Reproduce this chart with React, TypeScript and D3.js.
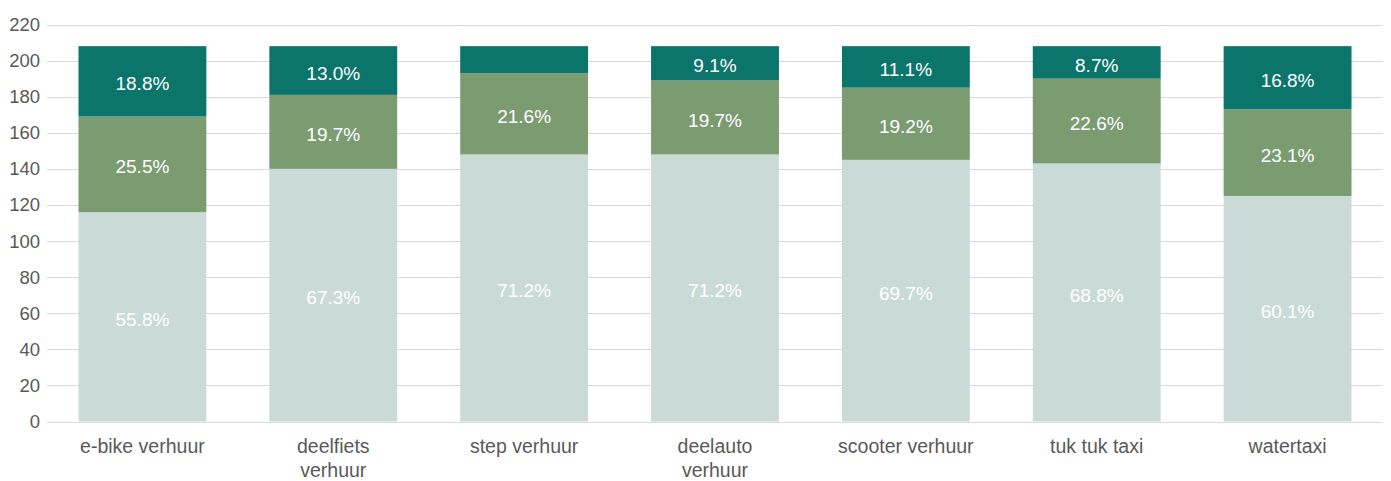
import React, { useEffect, useRef } from "react";
import * as d3 from "d3";

const categories = ["e-bike verhuur", "deelfiets verhuur", "step verhuur", "deelauto verhuur", "scooter verhuur", "tuk tuk taxi", "watertaxi"];
const seriesNames = ["bottom", "middle", "top"];
const bottomValues = [116, 140, 148, 148, 145, 143, 125];
const middleValues = [53, 41, 45, 41, 40, 47, 48];
const topValues = [39, 27, 15, 19, 23, 18, 35];
const yTicks = [0, 20, 40, 60, 80, 100, 120, 140, 160, 180, 200, 220];
const colors = ["#cadbd7", "#7b9b71", "#0b746b"];

const W = 1391;
const H = 481;

export default function App() {
  const ref = useRef<SVGSVGElement>(null);
  useEffect(() => {
    const svg = d3.select(ref.current);
    svg.selectAll("*").remove();
    const x = d3.scaleBand<string>().domain(categories).range([47, 1383]).paddingInner(0.33).paddingOuter(0.165);
    const y = d3.scaleLinear().domain([0, 220]).range([421.5, 24.5]);
    const font = "'Liberation Sans', Arial, sans-serif";

    const g = svg.append("g");
    g.selectAll("line.grid").data(yTicks).enter().append("line")
      .attr("x1", 47).attr("x2", 1383)
      .attr("y1", (d) => Math.round(y(d)) + 0.5).attr("y2", (d) => Math.round(y(d)) + 0.5)
      .attr("stroke", "#d9d9d9").attr("stroke-width", 1);
    g.selectAll("text.tick").data(yTicks).enter().append("text")
      .attr("x", 40).attr("y", (d) => y(d)).attr("dy", "0.35em")
      .attr("text-anchor", "end").attr("font-family", font).attr("font-size", 18.5)
      .attr("fill", "#595959").text((d) => String(d));

    const rows = categories.map((c, i) => ({ cat: c, bottom: bottomValues[i], middle: middleValues[i], top: topValues[i] }));
    const stack = d3.stack<any>().keys(seriesNames)(rows);
    stack.forEach((layer, li) => {
      layer.forEach((seg, i) => {
        const cat = categories[i];
        const total = bottomValues[i] + middleValues[i] + topValues[i];
        const v = seg[1] - seg[0];
        g.append("rect").attr("x", x(cat)!).attr("width", x.bandwidth())
          .attr("y", y(seg[1])).attr("height", y(seg[0]) - y(seg[1])).attr("fill", colors[li]);
        if (y(seg[0]) - y(seg[1]) >= 30) {
          g.append("text").attr("x", x(cat)! + x.bandwidth() / 2).attr("y", (y(seg[0]) + y(seg[1])) / 2)
            .attr("dy", "0.48em").attr("text-anchor", "middle").attr("font-family", font)
            .attr("font-size", 19).attr("fill", "#ffffff")
            .text(((v / total) * 100).toFixed(1) + "%");
        }
      });
    });

    const canvas = document.createElement("canvas");
    const ctx = canvas.getContext("2d")!;
    ctx.font = `19.5px ${font}`;
    categories.forEach((c) => {
      const lines = ctx.measureText(c).width > 143 ? c.split(" ") : [c];
      const t = g.append("text").attr("text-anchor", "middle").attr("font-family", font)
        .attr("font-size", 19.5).attr("fill", "#595959");
      lines.forEach((ln, k) => {
        t.append("tspan").attr("x", x(c)! + x.bandwidth() / 2).attr("y", 453 + k * 24).text(ln);
      });
    });
  }, []);
  return (
    <svg ref={ref} width={W} height={H} style={{ position: "absolute", left: 0, top: 0, background: "#fff" }} />
  );
}
